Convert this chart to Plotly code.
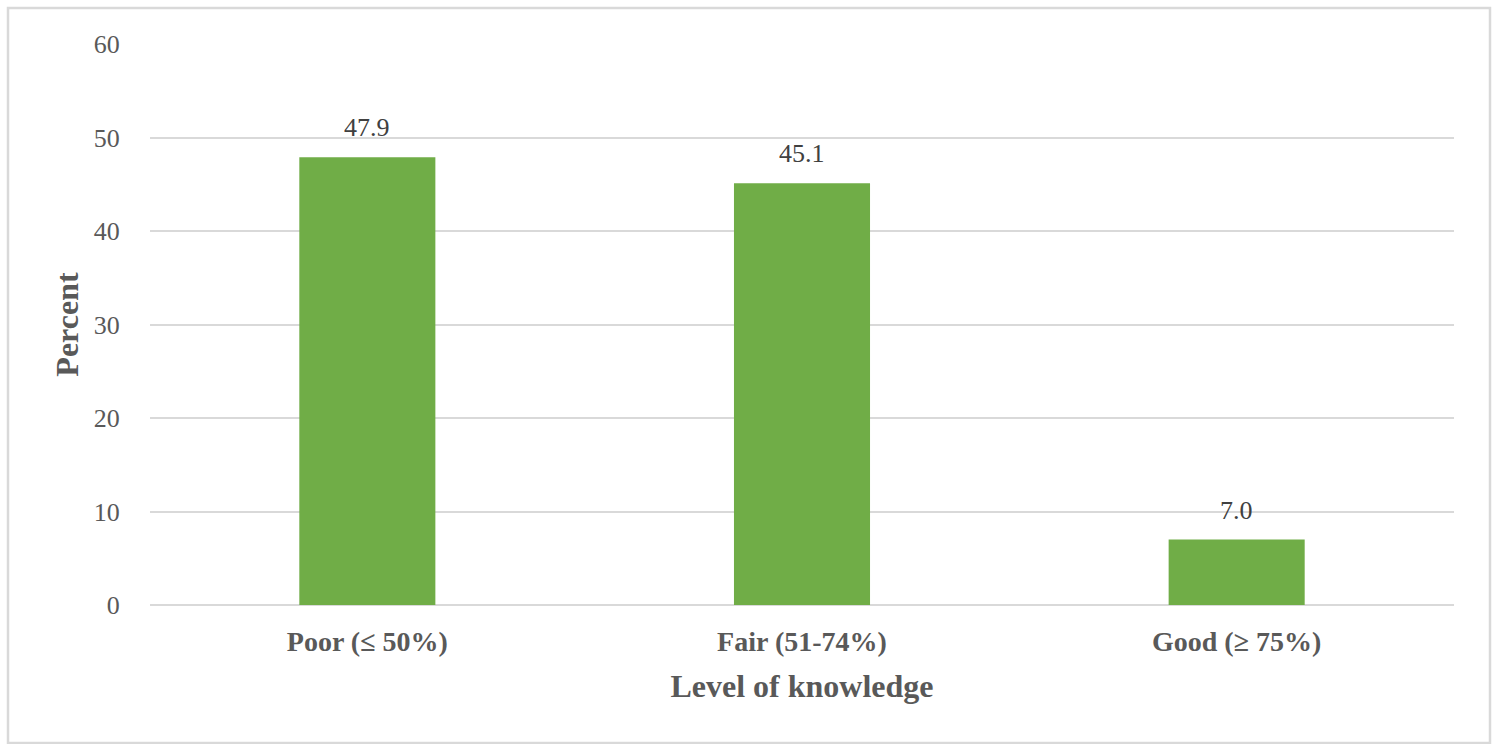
import plotly.graph_objects as go

categories = ["Poor (≤ 50%)", "Fair (51-74%)", "Good (≥ 75%)"]
values = [47.9, 45.1, 7.0]
labels = ["47.9", "45.1", "7.0"]

W, H = 1497, 744
L, R, T, B = 150, 1454, 44, 605

fig = go.Figure()
fig.add_trace(go.Bar(
    x=categories, y=values,
    marker=dict(color="#70AD47", line=dict(width=0)),
    width=0.313,
    hoverinfo="skip",
))

for c, v, t in zip(categories, values, labels):
    fig.add_annotation(x=c, y=v, text=t, showarrow=False, yanchor="bottom",
                       yshift=13, font=dict(family="Liberation Serif", size=26, color="#404040"))

def px(xp):
    return (xp - L) / (R - L)

def py(yp):
    return (B - yp) / (B - T)

fig.add_shape(type="rect", xref="paper", yref="paper",
              x0=px(8), x1=px(1490), y0=py(743), y1=py(8),
              line=dict(color="#D9D9D9", width=2.5), fillcolor="rgba(0,0,0,0)", layer="below")

fig.update_layout(
    width=W, height=H,
    margin=dict(l=L, r=W - R, t=T, b=H - B),
    paper_bgcolor="white", plot_bgcolor="white",
    showlegend=False,
    font=dict(family="Liberation Serif", color="#595959"),
    xaxis=dict(
        title=dict(text="<b>Level of knowledge</b>", font=dict(size=32, color="#595959"), standoff=19),
        tickfont=dict(size=28, color="#595959"),
        tickprefix="<b>", ticksuffix="</b>",
        ticks="outside", ticklen=11, tickcolor="rgba(0,0,0,0)",
        showline=False, showgrid=False,
    ),
    yaxis=dict(
        title=dict(text="<b>Percent</b>", font=dict(size=32, color="#595959"), standoff=5),
        range=[0, 60], dtick=10,
        tickfont=dict(size=26, color="#595959"),
        ticks="outside", ticklen=24, tickcolor="rgba(0,0,0,0)",
        showgrid=True, gridcolor="#D9D9D9", gridwidth=2,
        zeroline=True, zerolinecolor="#D9D9D9", zerolinewidth=2,
        showline=False,
    ),
)

fig.write_html("out.html")
